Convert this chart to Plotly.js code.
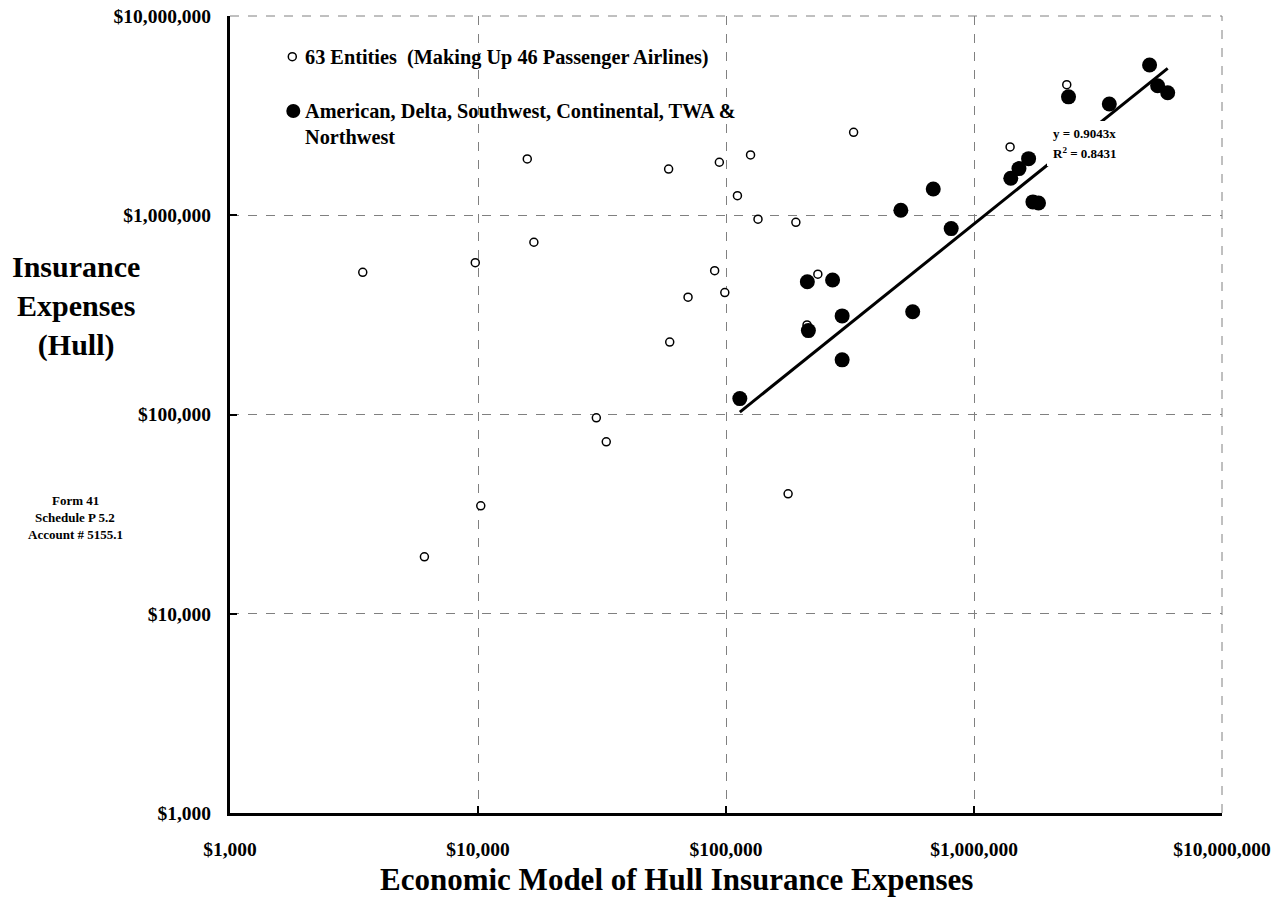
<!DOCTYPE html>
<html>
<head>
<meta charset="utf-8">
<script src="https://cdn.plot.ly/plotly-3.0.1.min.js"></script>
<style>html,body{margin:0;padding:0;background:#fff;}#chart{width:1282px;height:905px;}</style>
</head>
<body>
<div id="chart"></div>
<script>
// Open circles: 63 entities (making up 46 passenger airlines)
const otherModel = [3430, 6080, 9750, 10260, 15800, 16800, 30000, 32900, 58700, 59300, 70300, 90000, 94000, 98900, 111200, 125600, 134600, 178000, 191300, 212200, 234600, 327000, 1398000, 2366000];
const otherActual = [517000, 19300, 578000, 34800, 1917000, 732000, 96200, 72900, 1706000, 231000, 388000, 527000, 1845000, 409000, 1254000, 2007000, 955000, 40000, 922000, 281700, 506000, 2609000, 2203000, 4520000];

// Filled circles: American, Delta, Southwest, Continental, TWA & Northwest
const majorModel = [113700, 212800, 214900, 269000, 294000, 294000, 507000, 566000, 685000, 809000, 1407000, 1518000, 1660000, 1728000, 1820000, 2405000, 3512000, 5105000, 5500000, 6040000];
const majorActual = [120200, 464000, 263700, 473000, 312500, 188000, 1059000, 328000, 1355000, 857000, 1534000, 1714000, 1923000, 1167000, 1153000, 3929000, 3619000, 5680000, 4468000, 4121000];

// Trend line y = slope * x
const slope = 0.9043;
const rSquared = 0.8431;

const tickValues = [1000, 10000, 100000, 1000000, 10000000];
const tickLabels = ['$1,000', '$10,000', '$100,000', '$1,000,000', '$10,000,000'];

const legendOpen = '63 Entities  (Making Up 46 Passenger Airlines)';
const legendFilled = 'American, Delta, Southwest, Continental, TWA &<br>Northwest';
const xTitle = 'Economic Model of Hull Insurance Expenses';
const yTitle = 'Insurance<br>Expenses<br>(Hull)';
const noteLines = ['Form 41', 'Schedule P 5.2', 'Account # 5155.1'];

const FONT = 'Liberation Serif, Times New Roman, serif';
const L = 230, R = 1222, T = 16, B = 813;
const px = v => (v - L) / (R - L);
const py = v => (B - v) / (B - T);

const trendX = [Math.min(...majorModel), Math.max(...majorModel)];
const trendY = trendX.map(v => slope * v);

const traces = [
  {x: otherModel, y: otherActual, type: 'scatter', mode: 'markers',
   marker: {symbol: 'circle', size: 8, color: '#ffffff', line: {color: '#000', width: 1.5}}, hoverinfo: 'x+y'},
  {x: majorModel, y: majorActual, type: 'scatter', mode: 'markers',
   marker: {symbol: 'circle', size: 15, color: '#000', line: {width: 0}}, hoverinfo: 'x+y'},
  {x: trendX, y: trendY, type: 'scatter', mode: 'lines', line: {color: '#000', width: 3}, hoverinfo: 'skip'}
];

const axisCommon = {
  type: 'log', tickvals: tickValues, ticktext: tickLabels,
  showline: true, linecolor: '#000', linewidth: 3,
  ticks: 'inside', ticklen: 7, tickwidth: 2, tickcolor: '#000',
  showgrid: true, gridcolor: '#808080', gridwidth: 1, griddash: 'dash',
  zeroline: false, fixedrange: true,
  tickfont: {family: FONT, size: 19.5, weight: 'bold', color: '#000'}
};

const ann = (text, x, y, size, xanchor, extra) => Object.assign({
  text: text, xref: 'paper', yref: 'paper', x: x, y: y, xanchor: xanchor, yanchor: 'middle',
  showarrow: false, font: {family: FONT, size: size, weight: 'bold', color: '#000'}
}, extra || {});

const edgeGrid = {type: 'line', xref: 'paper', yref: 'paper', line: {color: '#808080', width: 1, dash: 'dash'}, layer: 'below'};

const layout = {
  width: 1282, height: 905,
  margin: {l: L, r: 1282 - R, t: T, b: 905 - B},
  paper_bgcolor: '#fff', plot_bgcolor: '#fff',
  showlegend: false,
  xaxis: Object.assign({}, axisCommon, {range: [3, 7], ticklabelstandoff: 17}),
  yaxis: Object.assign({}, axisCommon, {range: [3, 7], ticklabelstandoff: 12}),
  shapes: [
    Object.assign({}, edgeGrid, {x0: 0, x1: 1, y0: 1, y1: 1}),
    Object.assign({}, edgeGrid, {x0: 1, x1: 1, y0: 0, y1: 1}),
    {type: 'rect', xref: 'paper', yref: 'paper', x0: px(1047), x1: px(1122), y0: py(166), y1: py(121),
     fillcolor: '#fff', line: {width: 0}, layer: 'above'},
    {type: 'circle', xref: 'paper', yref: 'paper', xsizemode: 'pixel', ysizemode: 'pixel',
     xanchor: px(292.3), yanchor: py(56.7), x0: -4, x1: 4, y0: -4, y1: 4,
     fillcolor: '#fff', line: {color: '#000', width: 1.5}, layer: 'above'},
    {type: 'circle', xref: 'paper', yref: 'paper', xsizemode: 'pixel', ysizemode: 'pixel',
     xanchor: px(293.3), yanchor: py(111), x0: -7, x1: 7, y0: -7, y1: 7,
     fillcolor: '#000', line: {color: '#000', width: 0}, layer: 'above'}
  ],
  annotations: [
    ann(legendOpen, px(303), py(57), 20.3, 'left'),
    ann(legendFilled, px(303), py(123.5), 20.3, 'left', {align: 'left'}),
    ann('y = ' + slope.toFixed(4) + 'x', px(1051), py(133), 13, 'left'),
    ann('R<sup>2</sup> = ' + rSquared.toFixed(4), px(1051), py(153), 13, 'left'),
    ann(xTitle, px(676), py(879), 31, 'center'),
    ann(yTitle, px(76), py(306), 30, 'center', {align: 'center'}),
    ann(noteLines[0], px(75), py(500), 13, 'center'),
    ann(noteLines[1], px(75), py(517), 13, 'center'),
    ann(noteLines[2], px(75), py(534), 13, 'center')
  ]
};

Plotly.newPlot('chart', traces, layout, {displayModeBar: false, staticPlot: true});
</script>
</body>
</html>
